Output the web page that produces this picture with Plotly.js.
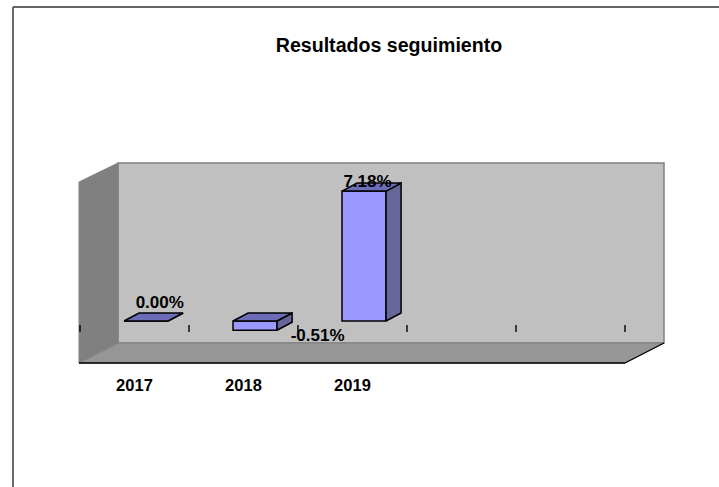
<!DOCTYPE html>
<html>
<head>
<meta charset="utf-8">
<script src="https://cdn.plot.ly/plotly-3.0.1.min.js"></script>
<style>html,body{margin:0;padding:0;background:#fff;overflow:hidden}</style>
</head>
<body>
<div id="chart" style="width:719px;height:487px"></div>
<script>
const years = ['2017', '2018', '2019'];
const values = [0.00, -0.51, 7.18];
const valueLabels = ['0.00%', '-0.51%', '7.18%'];
const tickPositions = [-0.5, 0.5, 1.5, 2.5, 3.5, 4.5];

const W = 719, H = 487;
const plot = {l: 79, r: 664, t: 163, b: 363};
const xRange = [-0.509, 4.858];
const yRange = [-2.32, 8.73];
const barShift = 0.106, barWidth = 0.404;
const depthX = 0.138, depthY = 0.442;
const indices = years.map((_, i) => i);

const faceColor = '#9999ff', sideColor = '#666699', topColor = '#6c6cb8';
const fontFamily = '"Liberation Sans", Arial, sans-serif';

function polyTrace(xs, ys, color) {
  return {type: 'scatter', mode: 'lines', x: xs.concat(xs[0]), y: ys.concat(ys[0]),
    fill: 'toself', fillcolor: color, line: {color: '#000', width: 1.5},
    hoverinfo: 'skip', showlegend: false};
}

const traces = [];
indices.forEach(i => {
  const l = i + barShift - barWidth / 2, r = i + barShift + barWidth / 2;
  const top = Math.max(values[i], 0), bot = Math.min(values[i], 0);
  traces.push(polyTrace([r, r + depthX, r + depthX, r], [bot, bot + depthY, top + depthY, top], sideColor));
  traces.push(polyTrace([l, r, r + depthX, l + depthX], [top, top, top + depthY, top + depthY], topColor));
});

traces.push({type: 'bar', x: indices.map(i => i + barShift), y: values, width: barWidth,
  marker: {color: faceColor, line: {color: '#000', width: 1.5}},
  hoverinfo: 'skip', showlegend: false});

traces.push({type: 'scatter', mode: 'markers', x: tickPositions, y: tickPositions.map(() => -0.41),
  marker: {symbol: 'line-ns', size: 5, line: {color: '#000', width: 1.4}},
  hoverinfo: 'skip', showlegend: false});

const labelDX = [0.232, 0.68, 0.138], labelDY = [0.94, -0.89, 0.44];
traces.push({type: 'scatter', mode: 'text',
  x: indices.map(i => i + labelDX[i]),
  y: values.map((v, i) => (i === 1 ? 0 : v) + labelDY[i]),
  text: valueLabels, textposition: 'middle center', cliponaxis: false,
  textfont: {family: fontFamily, size: 17, color: '#000', weight: 700},
  hoverinfo: 'skip', showlegend: false});

const px = x => (x - plot.l) / (plot.r - plot.l);
const py = y => (plot.b - y) / (plot.b - plot.t);
function pathShape(pts, fill, lineColor, lineWidth) {
  return {type: 'path', xref: 'paper', yref: 'paper', layer: 'below',
    path: 'M' + pts.map(p => px(p[0]) + ',' + py(p[1])).join(' L') + ' Z',
    fillcolor: fill, line: {color: lineColor, width: lineWidth}};
}
function lineShape(a, b, color, width) {
  return {type: 'line', xref: 'paper', yref: 'paper', layer: 'below',
    x0: px(a[0]), y0: py(a[1]), x1: px(b[0]), y1: py(b[1]), line: {color: color, width: width}};
}

const shapes = [
  pathShape([[118,163],[664,163],[664,343],[118,343]], '#c0c0c0', '#808080', 1.5),
  pathShape([[79,182],[118,163],[118,343],[79,363]], '#808080', '#808080', 1),
  pathShape([[79,363],[118,343],[664,343],[625,363]], '#969696', '#808080', 1),
  lineShape([79,363],[625,363], '#000', 1.6),
  lineShape([625,363],[664,343], '#000', 1.2),
  lineShape([13,7],[719,7], '#333', 1.6),
  lineShape([13,7],[13,487], '#444', 1.6)
];

const layout = {
  width: W, height: H, autosize: false,
  margin: {l: plot.l, r: W - plot.r, t: plot.t, b: H - plot.b, pad: 0},
  paper_bgcolor: '#fff', plot_bgcolor: 'rgba(0,0,0,0)',
  showlegend: false,
  title: {text: 'Resultados seguimiento', x: 389 / W, xref: 'container', xanchor: 'center',
    y: 1 - 45 / H, yref: 'container', yanchor: 'middle', pad: {t: 0, b: 0},
    font: {family: fontFamily, size: 19.6, color: '#000', weight: 700}},
  xaxis: {range: xRange, tickmode: 'array', tickvals: indices, ticktext: years,
    ticks: 'outside', ticklen: 7, tickcolor: 'rgba(0,0,0,0)', showgrid: false, zeroline: false,
    showline: false, tickfont: {family: fontFamily, size: 16.5, color: '#000', weight: 700}, fixedrange: true},
  yaxis: {range: yRange, visible: false, showgrid: false, zeroline: false, fixedrange: true},
  shapes: shapes
};

Plotly.newPlot('chart', traces, layout, {displayModeBar: false, staticPlot: true});
</script>
</body>
</html>
